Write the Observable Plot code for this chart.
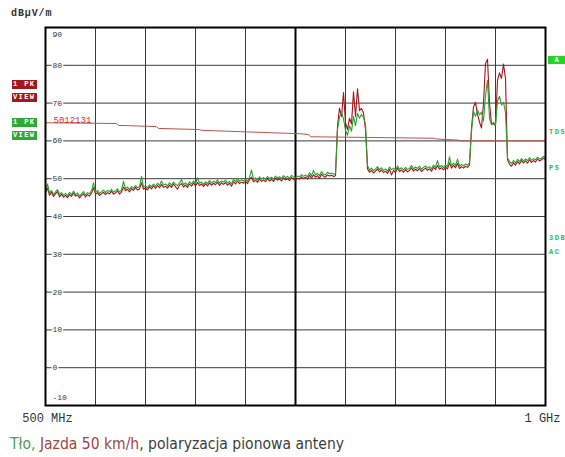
<!DOCTYPE html>
<html>
<head>
<meta charset="utf-8">
<script src="https://cdn.jsdelivr.net/npm/d3@7"></script>
<script src="https://cdn.jsdelivr.net/npm/@observablehq/plot@0.6"></script>
<style>
  body { margin: 0; background: #fff; }
  #wrap { position: relative; width: 565px; height: 457px; overflow: hidden; background: #fff; }
  #chart { position: absolute; left: 0; top: 0; }
  .mono { font-family: "Liberation Mono", "DejaVu Sans Mono", monospace; }
  .unit { position: absolute; left: 11px; top: 8px; font-size: 10px; font-weight: bold; color: #333; letter-spacing: 0.9px; }
  .tag { position: absolute; left: 12px; width: 25px; height: 9px; color: #fff; font-size: 7px; font-weight: bold;
         line-height: 9px; letter-spacing: 1.4px; padding-left: 1px; box-sizing: border-box; white-space: pre; }
  .red { background: #a3181e; }
  .green { background: #2fa836; }
  .side { position: absolute; left: 549px; font-size: 7px; font-weight: bold; color: #2fbf2f; letter-spacing: 1.5px; line-height: 8px; }
  .abox { position: absolute; left: 548px; top: 56px; width: 17px; height: 8px; background: #22d622; color: #fff;
          font-size: 7px; font-weight: bold; line-height: 8px; text-align: center; }
  .caption { position: absolute; left: 10px; top: 434px; font-size: 16px; color: #3d3d3d; white-space: nowrap;
             transform-origin: 0 0; transform: scaleX(0.97);
             font-family: "Liberation Sans Narrow", "Arial Narrow", "DejaVu Sans Condensed", "Liberation Sans", sans-serif; }
</style>
</head>
<body>
<div id="wrap">
  <div id="chart"></div>
  <div class="unit mono">dBµV/m</div>
  <div class="tag red mono" style="top:80px">1 PK</div>
  <div class="tag red mono" style="top:93px">VIEW</div>
  <div class="tag green mono" style="top:118px">1 PK</div>
  <div class="tag green mono" style="top:131px">VIEW</div>
  <div class="abox mono">A</div>
  <div class="side mono" style="top:128px">TDS</div>
  <div class="side mono" style="top:164px">PS</div>
  <div class="side mono" style="top:234px">3DB</div>
  <div class="side mono" style="top:248px">AC</div>
  <div class="caption"><span style="color:#4f9a4f">Tło,</span> <span style="color:#a14444">Jazda 50 km/h</span>, polaryzacja pionowa anteny</div>
</div>
<script>
// Sweep: 500 MHz to 1 GHz, one sample every 2 MHz
const sweepStartMHz = 500;
const sweepStepMHz = 2;

// Field strength, dBµV/m — trace 1 (green, "1 PK VIEW")
const greenTrace = [
  46.8, 48.6, 46.2, 46.9, 45.8, 46.5, 47.1, 45.9, 46.3, 45.6,
  46.1, 45.5, 46.4, 45.8, 46.7, 45.9, 46.2, 45.4, 46.0, 46.6,
  45.7, 46.3, 46.0, 46.8, 48.9, 46.4, 46.9, 46.1, 46.5, 47.0,
  46.3, 46.9, 46.6, 47.2, 46.4, 46.8, 47.3, 46.5, 47.0, 49.3,
  47.3, 47.8, 47.1, 47.9, 47.5, 48.2, 47.6, 47.9, 50.6, 47.8,
  48.1, 47.6, 48.4, 47.9, 48.6, 48.0, 48.8, 48.2, 49.4, 48.3,
  48.6, 48.1, 48.9, 48.3, 49.1, 48.5, 48.2, 48.9, 49.8, 48.4,
  48.9, 48.3, 49.2, 48.6, 49.4, 48.7, 50.3, 48.8, 49.1, 48.5,
  49.2, 48.7, 49.5, 48.9, 49.3, 49.0, 49.7, 48.8, 49.4, 49.1,
  49.6, 48.9, 49.3, 48.6, 49.8, 49.2, 50.1, 49.3, 49.7, 49.4,
  49.9, 49.3, 50.4, 52.3, 49.8, 50.2, 49.6, 50.5, 49.9, 50.3,
  49.8, 50.6, 50.0, 50.4, 49.9, 50.7, 50.2, 50.5, 50.0, 50.8,
  50.3, 50.6, 50.1, 50.9, 50.4, 50.2, 50.7, 50.5, 51.1, 50.6,
  51.0, 50.5, 51.6, 50.8, 52.2, 51.0, 51.4, 50.8, 51.9, 51.2,
  51.0, 51.7, 51.3, 51.5, 51.2, 51.4, 63.0, 66.3, 67.6, 65.8,
  62.8, 61.5, 64.0, 62.6, 66.5, 64.0, 67.3, 66.0, 67.0, 66.2,
  64.5, 53.5, 52.3, 52.8, 52.1, 52.6, 53.2, 52.4, 52.9, 52.2,
  52.6, 52.0, 53.1, 52.4, 52.8, 52.2, 53.4, 52.5, 52.9, 52.3,
  53.0, 52.4, 52.8, 53.5, 52.6, 53.1, 52.7, 53.3, 52.5, 53.0,
  53.4, 52.8, 53.2, 52.6, 53.6, 53.0, 54.8, 53.1, 53.5, 52.9,
  53.7, 53.2, 55.8, 53.4, 54.1, 53.5, 55.2, 53.3, 53.8, 53.4,
  53.9, 53.6, 54.2, 62.5, 67.8, 66.5, 68.2, 66.9, 67.6, 65.3,
  72.0, 76.0, 66.0, 64.4, 64.9, 64.2, 70.5, 71.8, 69.5, 70.2,
  67.5, 55.5, 54.6, 54.0, 54.8, 54.2, 55.1, 54.5, 55.3, 54.7,
  55.2, 54.8, 55.6, 54.9, 55.3, 55.0, 55.7, 55.2, 55.5, 55.9, 55.6
];

// Field strength, dBµV/m — trace 1 (red, "1 PK VIEW")
const redTrace = [
  46.2, 47.5, 45.6, 46.4, 45.3, 46.0, 46.6, 45.2, 45.9, 45.1,
  45.6, 45.0, 45.8, 45.3, 46.2, 45.4, 45.7, 44.9, 45.5, 46.0,
  45.2, 45.8, 45.4, 46.2, 47.6, 45.9, 46.3, 45.6, 46.0, 46.4,
  45.8, 46.3, 46.0, 46.7, 45.9, 46.2, 46.8, 45.9, 46.4, 47.8,
  46.8, 47.2, 46.5, 47.4, 46.9, 47.7, 47.0, 47.3, 48.9, 47.2,
  47.6, 47.0, 47.9, 47.3, 48.1, 47.4, 48.2, 47.6, 48.5, 47.7,
  48.0, 47.5, 48.3, 47.7, 48.6, 47.9, 47.2, 48.3, 48.7, 47.8,
  48.3, 47.7, 48.6, 48.0, 48.9, 48.1, 49.0, 48.2, 48.6, 47.9,
  48.7, 48.1, 48.9, 48.3, 48.8, 48.4, 49.1, 48.2, 48.9, 48.5,
  49.0, 48.3, 48.8, 48.0, 49.2, 48.6, 49.4, 48.7, 49.1, 48.8,
  49.3, 48.7, 49.8, 50.4, 49.2, 49.6, 49.0, 49.9, 49.3, 49.7,
  49.2, 50.0, 49.4, 49.8, 49.3, 50.1, 49.6, 49.9, 49.4, 50.2,
  49.7, 50.0, 49.5, 50.3, 49.8, 49.6, 50.1, 49.9, 50.5, 50.0,
  50.4, 49.9, 50.9, 50.2, 51.0, 50.4, 50.8, 50.1, 51.2, 50.6,
  50.4, 51.0, 50.7, 50.9, 50.6, 50.8, 64.0, 68.7, 66.5, 72.8,
  64.8, 63.0, 66.0, 64.5, 73.0, 66.5, 73.8, 68.0, 68.6, 67.4,
  63.0, 52.6, 51.7, 52.2, 51.5, 52.0, 52.6, 51.8, 52.3, 51.6,
  52.0, 51.4, 52.5, 51.0, 52.2, 51.6, 52.8, 51.9, 52.3, 51.7,
  52.4, 51.8, 52.2, 52.9, 52.0, 52.5, 52.1, 52.7, 51.9, 52.4,
  52.8, 52.2, 52.6, 52.0, 53.0, 52.4, 53.5, 52.5, 52.9, 52.3,
  53.1, 52.6, 54.2, 52.8, 53.5, 52.9, 54.0, 52.7, 53.2, 52.8,
  53.3, 53.0, 53.6, 63.5, 69.0, 70.2, 67.0, 65.0, 63.4, 70.0,
  80.5, 81.6, 70.0, 64.3, 64.6, 64.0, 76.0, 78.0, 76.5, 80.3,
  76.5, 55.0, 53.8, 53.3, 54.2, 53.6, 54.5, 53.9, 54.8, 54.2,
  54.7, 54.1, 55.0, 54.3, 54.8, 54.4, 55.2, 54.7, 55.0, 55.4, 55.1
];

// Limit line 5012131
const limitName = "5012131";
const limitMHz = [500, 571, 573, 611, 613, 654, 656, 754, 763, 765, 889, 891, 913, 915, 1000];
const limitDb  = [64.8, 64.6, 64.1, 63.8, 63.3, 63.0, 62.8, 61.9, 61.7, 61.1, 60.7, 60.5, 60.2, 60.0, 60.0];

// Graticule
const gridDb = [80, 70, 60, 50, 40, 30, 20, 10, 0];
const gridMHz = [550, 600, 650, 700, 800, 850, 900, 950];
const centerMHz = 750;
const topDb = 90;
const bottomDb = -10;
const startLabel = "500 MHz";
const stopLabel = "1 GHz";

const rows = greenTrace.map((g, i) => ({ f: sweepStartMHz + i * sweepStepMHz, g, r: redTrace[i] }));
const limitRows = limitMHz.map((f, i) => ({ f, db: limitDb[i] }));
const mono = "Liberation Mono, DejaVu Sans Mono, monospace";

const chart = Plot.plot({
  width: 565,
  height: 425,
  marginLeft: 45,
  marginRight: 20,
  marginTop: 27,
  marginBottom: 20,
  x: { domain: [500, 1000], axis: null },
  y: { domain: [bottomDb, topDb], axis: null },
  style: { background: "white", overflow: "visible" },
  marks: [
    Plot.ruleY(gridDb, { stroke: "#3c3c3c", strokeWidth: 1 }),
    Plot.ruleX(gridMHz, { stroke: "#3c3c3c", strokeWidth: 1 }),
    Plot.ruleX([centerMHz], { stroke: "#000", strokeWidth: 2 }),
    Plot.line(rows, { x: "f", y: "r", stroke: "#a3161c", strokeWidth: 1.1 }),
    Plot.line(rows, { x: "f", y: "g", stroke: "#2e9e30", strokeWidth: 1.1 }),
    Plot.line(limitRows, { x: "f", y: "db", stroke: "#c2504c", strokeWidth: 1 }),
    Plot.text([limitName], { x: limitMHz[0], y: limitDb[0], text: d => d, dx: 8, dy: -3, textAnchor: "start",
      fill: "#c2302c", fontSize: 9, fontFamily: mono, letterSpacing: "1.2px" }),
    // dB scale written inside the graticule
    Plot.text(gridDb, { x: 500, y: d => d, text: d => String(d), dx: 7, textAnchor: "start",
      fill: "#333", stroke: "white", strokeWidth: 3, fontSize: 8, fontFamily: mono }),
    Plot.text([topDb], { x: 500, y: d => d, text: d => String(d), dx: 7, dy: 7, textAnchor: "start",
      fill: "#333", fontSize: 8, fontFamily: mono }),
    Plot.text([bottomDb], { x: 500, y: d => d, text: d => String(d), dx: 7, dy: -8, textAnchor: "start",
      fill: "#333", fontSize: 8, fontFamily: mono }),
    Plot.text([startLabel], { x: 500, y: bottomDb, text: d => d, dy: 13, dx: 2, textAnchor: "middle",
      fill: "#333", fontSize: 12, fontFamily: mono }),
    Plot.text([stopLabel], { x: 1000, y: bottomDb, text: d => d, dy: 13, dx: -3, textAnchor: "middle",
      fill: "#333", fontSize: 12, fontFamily: mono }),
    Plot.frame({ stroke: "#000", strokeWidth: 2 })
  ]
});
document.getElementById("chart").appendChild(chart);
</script>
</body>
</html>
